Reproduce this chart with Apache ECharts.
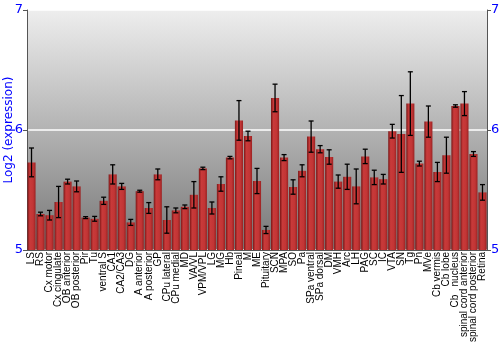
<!DOCTYPE html>
<html><head><meta charset="utf-8">
<script src="https://cdn.jsdelivr.net/npm/echarts@6/dist/echarts.min.js"></script>
<style>html,body{margin:0;padding:0;background:#fff}#c{width:500px;height:350px}</style>
</head><body><div id="c"></div>
<script>
var categories = ["LS","RS","Cx motor","Cx cingulate","OB anterior","OB posterior","Pir","Tu","ventral S","CA1","CA2/CA3","DG","A anterior","A posterior","GP","CPu lateral","CPu medial","MD","VA/VL","VPM/VPL","LG","MG","Hb","Pineal","M","ME","Pituitary","SCN","MPA","SO","Pa","SPa ventral","SPa dorsal","DM","VMH","Arc","LH","PAG","SC","IC","VTA","SN","Tg","Pn","MVe","Cb vermis","Cb lobe","Cb   nucleus","spinal cord anterior","spinal cord posterior","Retina"];
var values = [5.73,5.30,5.29,5.40,5.57,5.53,5.27,5.26,5.41,5.63,5.53,5.23,5.49,5.35,5.63,5.25,5.33,5.36,5.46,5.68,5.35,5.55,5.77,6.08,5.95,5.575,5.167,6.267,5.77,5.525,5.66,5.945,5.84,5.775,5.57,5.61,5.53,5.78,5.605,5.59,5.99,5.967,6.22,5.72,6.07,5.65,5.79,6.2,6.22,5.80,5.48];
var errors = [0.12,0.015,0.04,0.13,0.02,0.045,0.008,0.02,0.03,0.08,0.025,0.025,0.008,0.045,0.045,0.11,0.02,0.015,0.11,0.01,0.05,0.06,0.01,0.165,0.04,0.105,0.03,0.115,0.025,0.06,0.05,0.13,0.03,0.06,0.055,0.105,0.145,0.06,0.06,0.04,0.057,0.32,0.265,0.02,0.13,0.08,0.15,0.01,0.1,0.02,0.065];
var yTicks = [5,6,7];

var chart = echarts.init(document.getElementById('c'), null, {renderer:'canvas'});
var errData = values.map(function(v,i){return [i, v-errors[i], v+errors[i]];});
var blue = '#0000ff';
var yAxisBase = {
  type:'value', min:5, max:7, interval:1,
  axisLine:{show:true, lineStyle:{color:'#555'}},
  axisTick:{show:true, length:4, lineStyle:{color:'#555'}},
  axisLabel:{color:blue, fontSize:13, fontFamily:'DejaVu Sans', margin:4},
  splitLine:{show:false}
};
chart.setOption({
  animation:false,
  grid:{left:27, right:13, top:10, bottom:100, show:true, borderWidth:0, containLabel:false, outerBoundsMode:'none',
    backgroundColor:new echarts.graphic.LinearGradient(0,0,0,1,[{offset:0,color:'#eeeeee'},{offset:1,color:'#777777'}])},
  xAxis:{type:'category', data:categories,
    axisLine:{show:true, lineStyle:{color:'#555'}},
    axisTick:{show:false},
    axisLabel:{rotate:90, interval:0, color:'#000', fontSize:10, fontFamily:'Liberation Sans', margin:2, hideOverlap:false}},
  yAxis:[
    Object.assign({}, yAxisBase, {position:'left', name:'Log2 (expression)', nameLocation:'middle', nameGap:12, nameMoveOverlap:false,
      nameTextStyle:{color:blue, fontSize:12, fontFamily:'DejaVu Sans'},
      splitLine:{show:true, lineStyle:{color:'#ffffff', width:1.5}}}),
    Object.assign({}, yAxisBase, {position:'right'})
  ],
  series:[
    {type:'bar', data:values, barCategoryGap:'10%',
      itemStyle:{color:new echarts.graphic.LinearGradient(0,0,1,0,[{offset:0,color:'#7a1616'},{offset:0.3,color:'#c93a3a'},{offset:0.7,color:'#c23535'},{offset:1,color:'#9a2222'}])}},
    {type:'custom', data:errData, z:10,
      renderItem:function(params, api){
        var x = api.value(0);
        var lo = api.coord([x, api.value(1)]);
        var hi = api.coord([x, api.value(2)]);
        var w = 2.5;
        var st = {stroke:'#000', lineWidth:1.3};
        return {type:'group', children:[
          {type:'line', shape:{x1:hi[0],y1:hi[1],x2:lo[0],y2:lo[1]}, style:st},
          {type:'line', shape:{x1:hi[0]-w,y1:hi[1],x2:hi[0]+w,y2:hi[1]}, style:st},
          {type:'line', shape:{x1:lo[0]-w,y1:lo[1],x2:lo[0]+w,y2:lo[1]}, style:st}
        ]};
      }}
  ]
});
</script></body></html>
